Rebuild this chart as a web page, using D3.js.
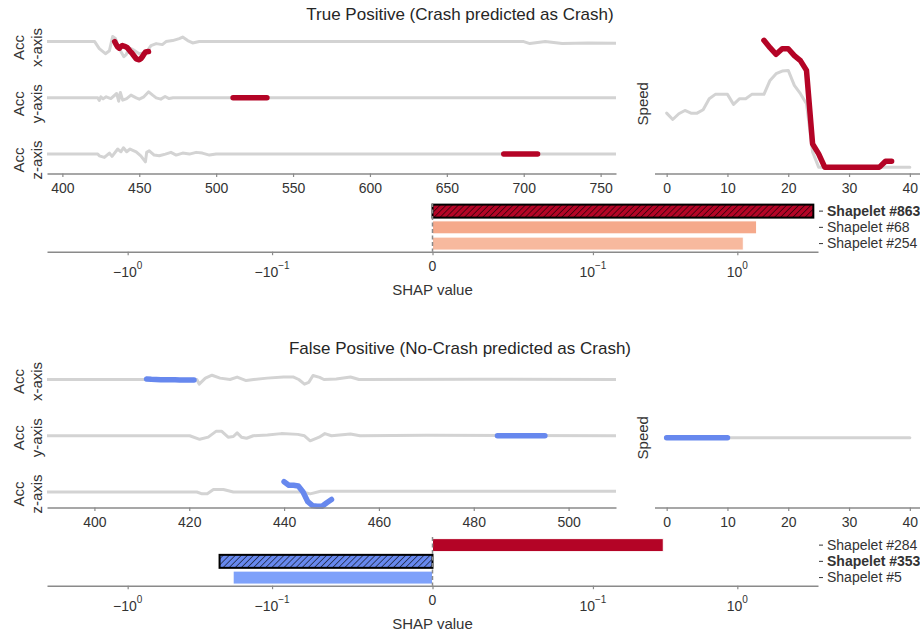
<!DOCTYPE html>
<html>
<head>
<meta charset="utf-8">
<script src="https://cdn.jsdelivr.net/npm/d3@7"></script>
<style>
  body { margin: 0; background: #fff; }
  svg { display: block; font-family: "Liberation Sans", Arial, sans-serif; }
</style>
</head>
<body>
<div id="chart"></div>
<script>
// ---------- data: true positive ----------
const tpTitle = "True Positive (Crash predicted as Crash)";
const tpTimeDomain = [390, 760];
const tpTimeTicks = [400, 450, 500, 550, 600, 650, 700, 750];
// grey accelerometer traces as [time, value] points
const tpAccX = [[390,0],[421,0],[424,-0.7],[428,-1.2],[430.6,-0.9],[432.7,0.5],[434.5,0.3],[437,-0.7],[440,-1.5],
  [441.5,-1.3],[442.5,-0.9],[444.6,-0.7],[447,-0.9],[450,-1.2],[454.4,-1.1],[457.6,-0.4],[461,-0.2],[465,-0.3],
  [467.4,0],[471.7,0.1],[476,0.3],[478.2,0.45],[481.5,0.1],[484.7,-0.13],[489,0],[700,0],[704,-0.2],[714,0],
  [725,-0.2],[742,-0.15],[760,-0.16]];
const tpAccY = [[390,0],[423,0],[424,-0.25],[425,0.1],[426.5,-0.1],[428.5,0.1],[431.5,-0.07],[435.3,0.43],
  [436.6,-0.33],[437.7,0.53],[439.2,-0.23],[441.8,-0.07],[444.6,0.27],[448,0],[450,-0.13],[453,0.1],[456.1,0.6],
  [458.7,0.27],[461,0],[464,-0.13],[466.8,0.13],[469.4,-0.07],[472,0],[760,0]];
const tpAccZ = [[390,0],[423,0],[424,-0.17],[427.3,-0.33],[430.6,0.1],[432.3,-0.23],[436,0.5],[438.1,0.23],
  [439.7,0.63],[441.8,0.23],[444,0.5],[448,0.23],[451,-0.17],[454,-0.77],[454.8,0.17],[456.5,0.33],[459.7,-0.1],
  [463,-0.17],[467,0],[470.6,0.17],[474,-0.1],[478.2,0.1],[482.6,0],[487,0.17],[491,0.1],[495.6,-0.1],[500,0],
  [760,0]];
// highlighted shapelet on each channel
const tpShapeXStart = 434;
const tpShapeX = [0,-0.3,-0.55,-0.66,-0.5,-0.4,-0.45,-0.5,-0.58,-0.75,-0.95,-1.1,-1.3,-1.5,-1.7,-1.75,-1.8,-1.7,
  -1.5,-1.25,-1.05,-1.0,-0.98];
const tpShapeYStart = 511;
const tpShapeY = [0,0,0.02,0,0,0,0,0,0,0,0,0,0,0,0,0,0,0,0,0.02,0.02,0.02,0.02];
const tpShapeZStart = 687;
const tpShapeZ = [0,0.02,0.02,0.02,0,0,0,0,0,0,0,0,0,0,0,0,0,0,0,0,0,0,0];
// speed, one value per step 0..40
const tpSpeed = [0.426,0.376,0.421,0.447,0.426,0.426,0.453,0.54,0.574,0.574,0.574,0.495,0.54,0.54,0.574,0.574,
  0.574,0.684,0.737,0.758,0.763,0.645,0.579,0.5,0.12,0,0,0,0,0,0,0,0,0,0,0,0,0,0,0,0];
const tpSpeedShapeStart = 16;
const tpSpeedShape = [1.0,0.942,0.89,0.934,0.934,0.88,0.84,0.763,0.184,0.105,0,0,0,0,0,0,0,0,0,0,0.047,0.047];
const tpShapelets = ["Shapelet #863", "Shapelet #68", "Shapelet #254"];
const tpShap = [3.36, 1.36, 1.10];
const tpColors = ["#b40426", "#f5a98b", "#f7b99e"];
const tpHighlight = "Shapelet #863";

// ---------- data: false positive ----------
const fpTitle = "False Positive (No-Crash predicted as Crash)";
const fpTimeDomain = [390, 510];
const fpTimeTicks = [400, 420, 440, 460, 480, 500];
const fpAccX = [[390,0],[421.6,0],[422.1,-0.43],[423.4,0.13],[424.8,0.4],[426.5,0.13],[428.6,0],[430.1,0.23],
  [432,-0.1],[433.6,0],[436.4,0.13],[439.9,0.23],[442,0.23],[443.1,0],[444.3,-0.43],[445.2,-0.27],[446.1,0.37],
  [447.5,0.2],[448.4,0],[451,0.05],[454,0.23],[455.8,0],[480,0.03],[510,0]];
const fpAccY = [[390,0],[420.1,0],[422.2,-0.33],[424,-0.13],[425.7,0.43],[426.8,0.43],[428.2,-0.13],[429.3,-0.07],
  [430.1,0.27],[431,-0.13],[432.1,-0.23],[433.5,0],[436.5,0.07],[439.4,0.2],[442.9,0.13],[444.3,0],[445.5,-0.47],
  [447.4,-0.13],[448.6,0.2],[450,0],[454,0.17],[456,0],[470,0.05],[510,0]];
const fpAccZ = [[390,0],[421.6,0],[422.7,-0.17],[423.8,-0.17],[425.1,0.23],[427.2,0.23],[429.3,0],[440,0],[444,0],
  [445.5,-0.17],[447.7,0.07],[460,0.07],[510,0.07]];
const fpShapeXStart = 411;
const fpShapeX = [0.05,0.02,0,-0.03,-0.03,-0.03,-0.03,-0.05,-0.05,-0.05,-0.05];
const fpShapeYStart = 485;
const fpShapeY = [0,0,0,0,0,0,0,0,0,0,0];
const fpShapeZStart = 440;
const fpShapeZ = [0.96,0.63,0.63,0.56,0.0,-0.9,-1.27,-1.33,-1.33,-1.0,-0.7];
const fpSpeed = [0,0,0,0,0,0,0,0,0,0,0,0,0,0,0,0,0,0,0,0,0,0,0,0,0,0,0,0,0,0,0,0,0,0,0,0,0,0,0,0,0];
const fpSpeedShapeStart = 0;
const fpSpeedShape = [0,0,0,0,0,0,0,0,0,0,0];
const fpShapelets = ["Shapelet #284", "Shapelet #353", "Shapelet #5"];
const fpShap = [0.307, -0.231, -0.186];
const fpColors = ["#b40426", "#6788ee", "#7ea1fa"];
const fpHighlight = "Shapelet #353";

const rowNames = ["x-axis", "y-axis", "z-axis"];
const speedTicks = [0, 10, 20, 30, 40];
const shapTicks = [-1, -0.1, 0, 0.1, 1];
const shapLimit = 3.62;

// ---------- layout ----------
const width = 920, height = 633;
const caseOffset = 334;
const left = 47, tsRight = 616, spLeft = 654.5, spRight = 922, shapRight = 818;
const panelTop = 34, panelBottom = 173.5, rowH = 27, rowStep = 56.25;
const shapTop = 203, shapBottom = 251.7;
const lightGrey = "#d3d3d3", axisGrey = "#8a8a8a", textCol = "#333";

// matplotlib-like symlog (linthresh 0.1, linscale 1, base 10)
const linThresh = 0.1, linScaleAdj = 1 / (1 - 1 / 10);
const symlog = v => {
  const a = Math.abs(v);
  return a <= linThresh ? v * linScaleAdj
    : Math.sign(v) * linThresh * (linScaleAdj + Math.log10(a / linThresh));
};

const svg = d3.select("#chart").append("svg")
    .attr("width", width)
    .attr("height", height);

const defs = svg.append("defs");
function hatch(id, fill) {
  const p = defs.append("pattern")
      .attr("id", id)
      .attr("patternUnits", "userSpaceOnUse")
      .attr("width", 4.3).attr("height", 4.3)
      .attr("patternTransform", "rotate(45)");
  p.append("rect").attr("width", 4.3).attr("height", 4.3).attr("fill", fill);
  p.append("line").attr("x1", 0).attr("y1", -1).attr("x2", 0).attr("y2", 6)
      .attr("stroke", "#000").attr("stroke-width", 1.1);
}

function styleAxis(sel) {
  sel.select(".domain").attr("stroke", axisGrey).attr("stroke-width", 1.6);
  sel.selectAll(".tick line").attr("stroke", axisGrey).attr("stroke-width", 1.2);
  sel.selectAll(".tick text").attr("fill", textCol).attr("font-size", 14)
      .attr("font-family", "Liberation Sans, Arial, sans-serif");
}

const shapePoints = (start, values) => values.map((v, i) => [start + i, v]);

function drawCase(c, oy) {
  const g = svg.append("g").attr("transform", `translate(0,${oy})`);

  g.append("text")
      .attr("x", width / 2).attr("y", 19.5)
      .attr("text-anchor", "middle")
      .attr("font-size", 17)
      .attr("fill", "#262626")
      .text(c.title);

  // ---- accelerometer rows (shared y) ----
  const x = d3.scaleLinear().domain(c.timeDomain).range([left, tsRight]);
  const allV = c.acc.flatMap(s => s.map(d => d[1]))
      .concat(c.shapes.flatMap(s => s.values));
  const [lo, hi] = d3.extent(allV);
  const pad = (hi - lo) * 0.05;

  c.acc.forEach((series, i) => {
    const top = panelTop + i * rowStep;
    const y = d3.scaleLinear().domain([lo - pad, hi + pad]).range([top + rowH, top]);
    const line = d3.line().x(d => x(d[0])).y(d => y(d[1]));

    g.append("path")
        .attr("d", line(series))
        .attr("fill", "none")
        .attr("stroke", lightGrey)
        .attr("stroke-width", 3)
        .attr("stroke-linejoin", "round");

    const s = c.shapes[i];
    g.append("path")
        .attr("d", line(shapePoints(s.start, s.values)))
        .attr("fill", "none")
        .attr("stroke", c.shapeColor)
        .attr("stroke-width", 5.5)
        .attr("stroke-linecap", "round")
        .attr("stroke-linejoin", "round");

    const cy = top + rowH / 2;
    g.append("text")
        .attr("transform", `translate(24,${cy}) rotate(-90)`)
        .attr("text-anchor", "middle")
        .attr("font-size", 15).attr("fill", textCol)
        .text("Acc");
    g.append("text")
        .attr("transform", `translate(41.5,${cy}) rotate(-90)`)
        .attr("text-anchor", "middle")
        .attr("font-size", 15).attr("fill", textCol)
        .text(rowNames[i]);
  });

  const xAxis = g.append("g")
      .attr("transform", `translate(0,${panelBottom})`)
      .call(d3.axisBottom(x).tickValues(c.timeTicks).tickSize(3.5).tickPadding(6).tickSizeOuter(0));
  styleAxis(xAxis);

  // ---- speed panel ----
  const sxs = d3.scaleLinear().domain([-2, 42]).range([spLeft, spRight]);
  const spVals = c.speed.concat(c.speedShape);
  let [slo, shi] = d3.extent(spVals);
  if (slo === shi) { slo -= 0.05; shi += 0.05; }
  const spad = (shi - slo) * 0.05;
  const sy = d3.scaleLinear().domain([slo - spad, shi + spad]).range([panelBottom, panelTop]);
  const sline = d3.line().x(d => sxs(d[0])).y(d => sy(d[1]));

  g.append("path")
      .attr("d", sline(shapePoints(0, c.speed)))
      .attr("fill", "none")
      .attr("stroke", lightGrey)
      .attr("stroke-width", 3)
      .attr("stroke-linecap", "round")
      .attr("stroke-linejoin", "round");
  g.append("path")
      .attr("d", sline(shapePoints(c.speedShapeStart, c.speedShape)))
      .attr("fill", "none")
      .attr("stroke", c.shapeColor)
      .attr("stroke-width", 5.5)
      .attr("stroke-linecap", "round")
      .attr("stroke-linejoin", "round");

  const spAxis = g.append("g")
      .attr("transform", `translate(0,${panelBottom})`)
      .call(d3.axisBottom(sxs).tickValues(speedTicks).tickSize(3.5).tickPadding(6).tickSizeOuter(0));
  styleAxis(spAxis);

  g.append("text")
      .attr("transform", `translate(647.5,${(panelTop + panelBottom) / 2}) rotate(-90)`)
      .attr("text-anchor", "middle")
      .attr("font-size", 15).attr("fill", textCol)
      .text("Speed");

  // ---- SHAP bars ----
  const shx = d3.scaleLinear()
      .domain([symlog(-shapLimit), symlog(shapLimit)])
      .range([left, shapRight]);
  const band = d3.scaleBand().domain(c.names).range([shapTop, shapBottom])
      .paddingInner(0.2).paddingOuter(0.1);
  const x0 = shx(0);

  hatch(c.hatchId, c.colors[c.names.indexOf(c.highlight)]);

  g.selectAll(".bar")
      .data(c.names)
      .enter()
      .append("rect")
      .attr("class", "bar")
      .attr("x", (d, i) => Math.min(x0, shx(symlog(c.shap[i]))))
      .attr("y", d => band(d))
      .attr("width", (d, i) => Math.abs(shx(symlog(c.shap[i])) - x0))
      .attr("height", band.bandwidth())
      .attr("fill", (d, i) => d === c.highlight ? `url(#${c.hatchId})` : c.colors[i])
      .attr("stroke", d => d === c.highlight ? "#000" : "#fff")
      .attr("stroke-width", d => d === c.highlight ? 2 : 1);

  g.append("line")
      .attr("x1", x0).attr("x2", x0)
      .attr("y1", shapTop).attr("y2", shapBottom)
      .attr("stroke", axisGrey)
      .attr("stroke-width", 1.5)
      .attr("stroke-dasharray", "4,2.5");

  const shAxis = g.append("g")
      .attr("transform", `translate(0,${shapBottom})`)
      .call(d3.axisBottom(shx).tickValues(shapTicks.map(symlog)).tickSize(3.5).tickSizeOuter(0).tickFormat(""));
  styleAxis(shAxis);

  shapTicks.forEach(t => {
    const lab = g.append("text")
        .attr("x", shx(symlog(t)))
        .attr("text-anchor", "middle")
        .attr("font-size", 14)
        .attr("fill", textCol);
    if (t === 0) {
      lab.attr("y", shapBottom + 19.7).text("0");
    } else {
      const e = Math.round(Math.log10(Math.abs(t)));
      lab.attr("y", shapBottom + 25).text((t < 0 ? "\u2212" : "") + "10");
      lab.append("tspan")
          .attr("dy", -7.5)
          .attr("font-size", 10)
          .text(e < 0 ? "\u2212" + Math.abs(e) : String(e));
    }
  });

  g.append("text")
      .attr("x", (left + shapRight) / 2)
      .attr("y", shapBottom + 43.3)
      .attr("text-anchor", "middle")
      .attr("font-size", 15).attr("fill", textCol)
      .text("SHAP value");

  const yAxis = g.append("g")
      .attr("transform", `translate(819,0)`)
      .call(d3.axisRight(band).tickSize(4).tickPadding(4));
  yAxis.select(".domain").remove();
  yAxis.selectAll(".tick line").attr("stroke", textCol).attr("stroke-width", 1);
  yAxis.selectAll(".tick text")
      .attr("fill", textCol)
      .attr("font-size", 14)
      .attr("font-family", "Liberation Sans, Arial, sans-serif")
      .attr("font-weight", d => d === c.highlight ? "bold" : "normal");
}

drawCase({
  title: tpTitle, timeDomain: tpTimeDomain, timeTicks: tpTimeTicks,
  acc: [tpAccX, tpAccY, tpAccZ],
  shapes: [{start: tpShapeXStart, values: tpShapeX}, {start: tpShapeYStart, values: tpShapeY},
           {start: tpShapeZStart, values: tpShapeZ}],
  speed: tpSpeed, speedShapeStart: tpSpeedShapeStart, speedShape: tpSpeedShape,
  names: tpShapelets, shap: tpShap, colors: tpColors, highlight: tpHighlight,
  shapeColor: tpColors[0], hatchId: "hatch-tp"
}, 0);

drawCase({
  title: fpTitle, timeDomain: fpTimeDomain, timeTicks: fpTimeTicks,
  acc: [fpAccX, fpAccY, fpAccZ],
  shapes: [{start: fpShapeXStart, values: fpShapeX}, {start: fpShapeYStart, values: fpShapeY},
           {start: fpShapeZStart, values: fpShapeZ}],
  speed: fpSpeed, speedShapeStart: fpSpeedShapeStart, speedShape: fpSpeedShape,
  names: fpShapelets, shap: fpShap, colors: fpColors, highlight: fpHighlight,
  shapeColor: fpColors[1], hatchId: "hatch-fp"
}, caseOffset);
</script>
</body>
</html>
